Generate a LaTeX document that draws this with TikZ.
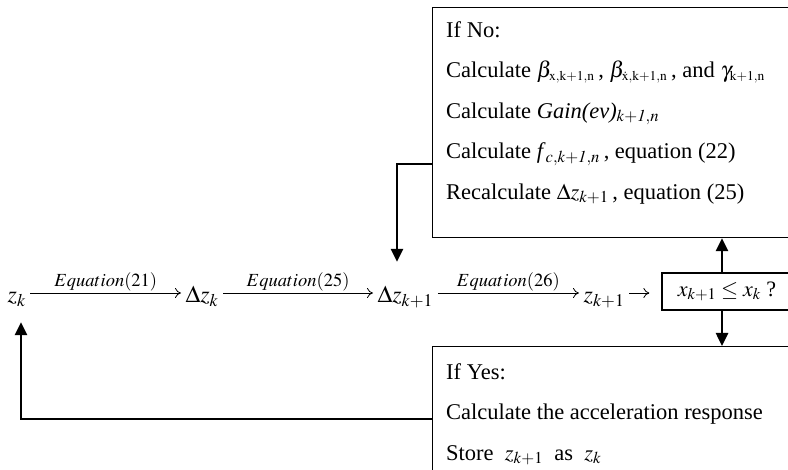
\documentclass[tikz,border=0pt]{standalone}
\usepackage{mathptmx}
\usepackage{fontspec}
\setmainfont{Liberation Serif}
\usetikzlibrary{arrows.meta}

\tikzset{
  stepmath/.style={anchor=base west, inner xsep=4.5pt, inner ysep=1pt,
    text height=26pt, text depth=6pt, font=\fontsize{24}{28}\selectfont},
  eqlabel/.style={above, inner sep=1pt, font=\fontsize{18.5}{22}\selectfont},
  eqarrow/.style={line width=0.8pt, -{To[length=6pt,width=10pt]}},
  fbarrow/.style={line width=2.5pt, -{Triangle[length=13pt,width=12pt]}},
  casebox/.style={draw, line width=1.2pt},
  boxtext/.style={anchor=north west, align=left, inner sep=0pt,
    font=\fontsize{22.5}{40.5}\selectfont},
}

\begin{document}
\begin{tikzpicture}[x=1pt,y=1pt]
\useasboundingbox (0,0) rectangle (788,-470);
\clip (0,0) rectangle (788,-470);
% the update chain
\node[stepmath] (zk) at (3,-303) {$z_k$};
\node[stepmath] (dzk) at (181,-303) {$\Delta z_k$};
\node[stepmath] (dzk1) at (373,-303) {$\Delta z_{k+1}$};
\node[stepmath] (zk1) at (579,-303) {$z_{k+1}$};
\draw[eqarrow] (zk) -- node[eqlabel] {$Equation(21)$} (dzk);
\draw[eqarrow] (dzk) -- node[eqlabel] {$Equation(25)$} (dzk1);
\draw[eqarrow] (dzk1) -- node[eqlabel] {$Equation(26)$} (zk1);
% test
\node[casebox, minimum width=130pt, minimum height=37pt, inner sep=0pt,
  font=\fontsize{22}{26}\selectfont] (test) at (727,-291.5) {$x_{k+1}\le x_k$ ?};
\draw[eqarrow, shorten >=12pt] (zk1) -- (zk1 -| test.west);
% if no
\node[casebox, anchor=north west, minimum width=400pt, minimum height=230pt] (nobox) at (432,-7) {};
\node[boxtext] (notext) at (446,-21) {If No:\\
  Calculate $\beta_{\scriptscriptstyle\mathrm{x,k+1,n}}$\,, $\beta_{\scriptscriptstyle\dot{\mathrm{x}},\mathrm{k+1,n}}$\,, and $\gamma_{\scriptscriptstyle\mathrm{k+1,n}}$\\
  Calculate \textit{Gain(ev)}$_{\mathit{k+1,n}}$\\
  Calculate \textit{f}$_{\mathit{c,k+1,n}}$\,, equation (22)\\
  Recalculate $\Delta z_{k+1}$\,, equation (25)};
% if yes
\node[casebox, anchor=north west, minimum width=400pt, minimum height=200pt] (yesbox) at (432,-346) {};
\node[boxtext] (yestext) at (446,-363) {If Yes:\\
  Calculate the acceleration response\\
  Store \ $z_{k+1}$ \ as \ $z_k$};
% decisions and feedback
\draw[fbarrow] ([xshift=-5pt]test.north) -- ([xshift=-5pt]test.north |- nobox.south);
\draw[fbarrow] ([xshift=-5pt]test.south) -- ([xshift=-5pt]test.south |- yesbox.north);
\coordinate (nofb) at (397,-164);
\draw[fbarrow, shorten >=14pt] (nofb -| nobox.west) -- (nofb) -- (nofb |- dzk1.north);
\coordinate (yesfb) at (21,-419);
\draw[fbarrow, shorten >=12pt] (yesfb -| yesbox.west) -- (yesfb) -- (yesfb |- zk.south);
\end{tikzpicture}
\end{document}
